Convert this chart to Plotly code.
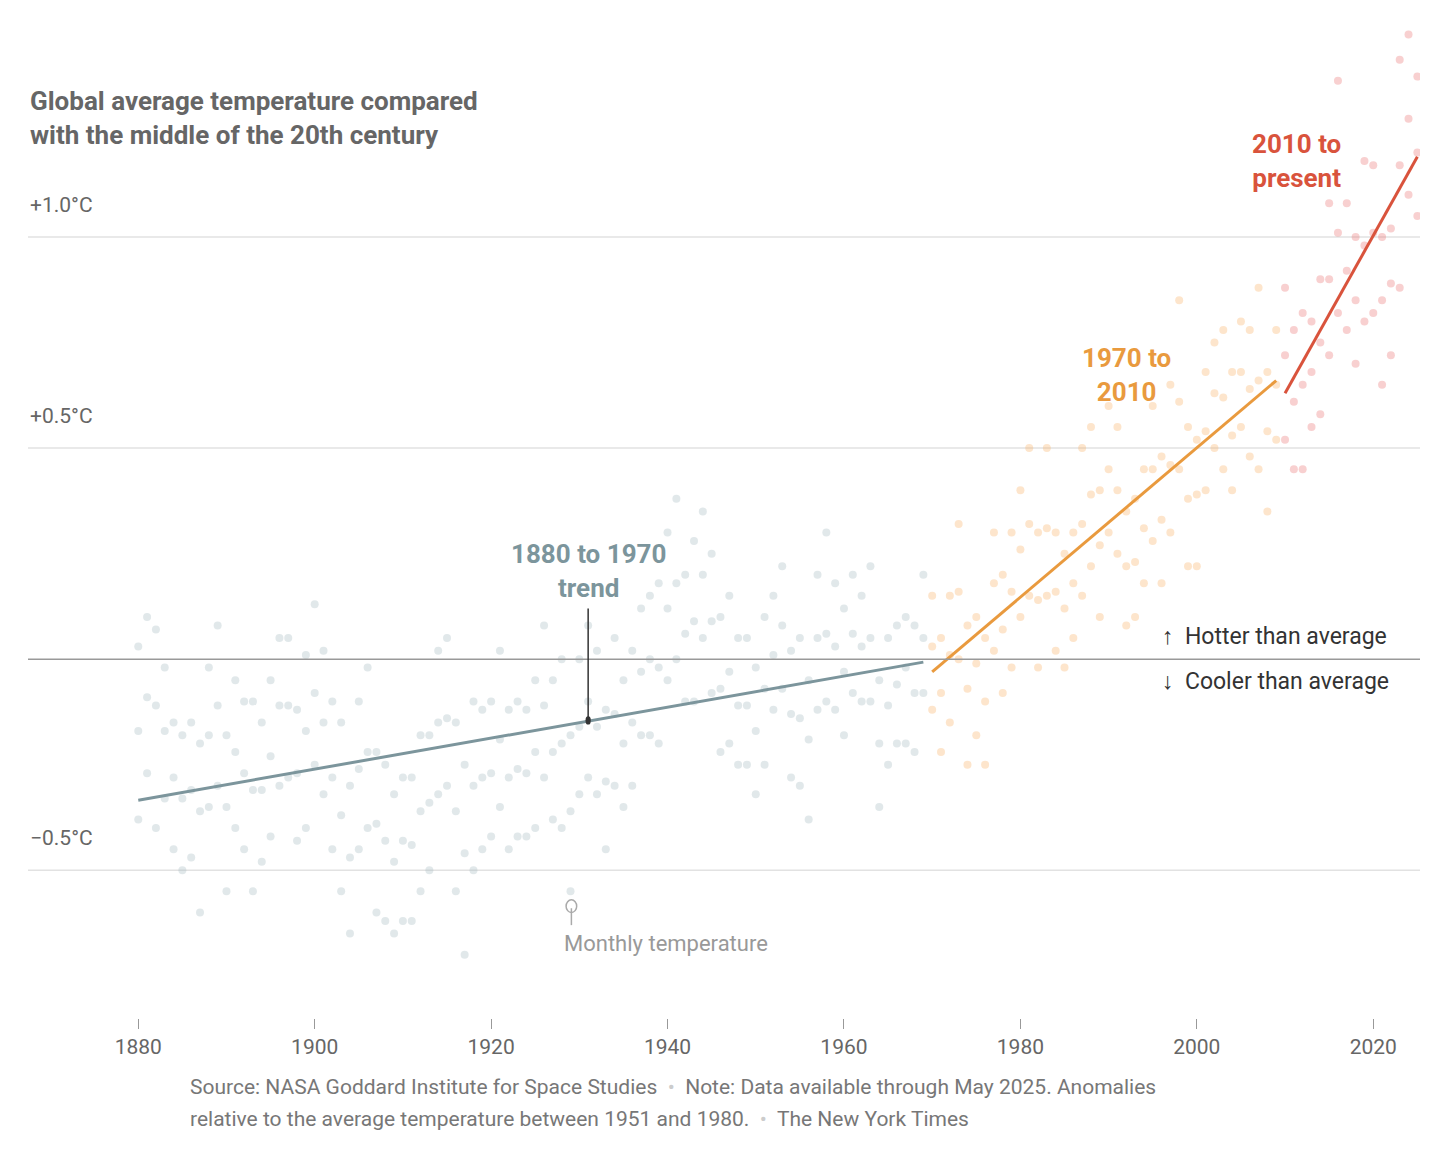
import plotly.graph_objects as go

years = list(range(1880, 2026))
annual_mean = [-0.17,-0.09,-0.11,-0.17,-0.28,-0.33,-0.31,-0.36,-0.18,-0.11,
 -0.35,-0.22,-0.27,-0.31,-0.31,-0.23,-0.11,-0.11,-0.27,-0.17,
 -0.08,-0.15,-0.28,-0.37,-0.47,-0.26,-0.22,-0.39,-0.43,-0.48,
 -0.43,-0.44,-0.36,-0.34,-0.15,-0.14,-0.36,-0.46,-0.30,-0.28,
 -0.27,-0.19,-0.28,-0.26,-0.27,-0.22,-0.11,-0.22,-0.20,-0.36,
 -0.16,-0.10,-0.16,-0.29,-0.13,-0.20,-0.15,-0.03,0.00,-0.02,
 0.12,0.18,0.06,0.09,0.20,0.09,-0.07,-0.03,-0.11,-0.11,
 -0.17,-0.07,0.01,0.08,-0.13,-0.14,-0.19,0.05,0.06,0.03,
 -0.03,0.06,0.03,0.05,-0.20,-0.11,-0.06,-0.02,-0.08,0.05,
 0.03,-0.08,0.01,0.16,-0.07,-0.01,-0.10,0.18,0.07,0.16,
 0.26,0.32,0.14,0.31,0.16,0.12,0.18,0.32,0.39,0.27,
 0.45,0.40,0.22,0.23,0.31,0.45,0.33,0.46,0.61,0.38,
 0.39,0.54,0.63,0.62,0.53,0.68,0.64,0.66,0.54,0.65,
 0.72,0.61,0.65,0.68,0.75,0.90,1.01,0.92,0.85,0.98,
 1.01,0.85,0.89,1.17,1.28,1.20]
monthly_low = [-0.38,-0.27,-0.40,-0.33,-0.45,-0.50,-0.47,-0.60,-0.35,-0.30,
 -0.55,-0.40,-0.45,-0.55,-0.48,-0.42,-0.30,-0.28,-0.43,-0.40,
 -0.25,-0.32,-0.45,-0.55,-0.65,-0.45,-0.40,-0.60,-0.62,-0.65,
 -0.62,-0.62,-0.55,-0.50,-0.32,-0.30,-0.55,-0.70,-0.50,-0.45,
 -0.42,-0.35,-0.45,-0.42,-0.42,-0.40,-0.28,-0.38,-0.40,-0.55,
 -0.32,-0.28,-0.32,-0.45,-0.30,-0.35,-0.30,-0.18,-0.18,-0.20,
 -0.05,0.00,-0.10,-0.10,0.05,-0.08,-0.22,-0.20,-0.25,-0.25,
 -0.32,-0.25,-0.12,-0.07,-0.28,-0.30,-0.38,-0.12,-0.10,-0.12,
 -0.18,-0.08,-0.10,-0.10,-0.35,-0.25,-0.20,-0.20,-0.22,-0.08,
 -0.12,-0.22,-0.15,0.00,-0.25,-0.18,-0.25,0.02,-0.08,-0.02,
 0.10,0.15,-0.02,0.15,0.02,-0.02,0.05,0.15,0.22,0.10,
 0.30,0.25,0.08,0.10,0.18,0.28,0.18,0.30,0.45,0.22,
 0.22,0.40,0.50,0.45,0.40,0.55,0.48,0.45,0.35,0.52,
 0.52,0.45,0.45,0.55,0.58,0.72,0.82,0.78,0.70,0.80,
 0.82,0.65,0.72,0.88,1.10,1.05]
monthly_high = [0.03,0.10,0.07,-0.02,-0.15,-0.18,-0.15,-0.20,-0.02,0.08,
 -0.18,-0.05,-0.10,-0.10,-0.15,-0.05,0.05,0.05,-0.12,0.01,
 0.13,0.02,-0.10,-0.15,-0.30,-0.10,-0.02,-0.22,-0.25,-0.32,
 -0.28,-0.28,-0.18,-0.18,0.02,0.05,-0.15,-0.25,-0.10,-0.12,
 -0.10,0.02,-0.12,-0.10,-0.12,-0.05,0.08,-0.05,0.00,-0.18,
 0.00,0.08,0.02,-0.12,0.05,-0.05,0.02,0.12,0.15,0.18,
 0.30,0.38,0.20,0.28,0.35,0.25,0.10,0.15,0.05,0.05,
 -0.02,0.10,0.15,0.22,0.02,0.05,-0.05,0.20,0.30,0.18,
 0.12,0.20,0.15,0.22,-0.05,0.05,0.08,0.10,0.08,0.20,
 0.15,0.05,0.15,0.32,0.08,0.10,0.05,0.30,0.20,0.30,
 0.40,0.50,0.30,0.50,0.30,0.25,0.30,0.50,0.55,0.40,
 0.60,0.55,0.35,0.38,0.45,0.60,0.48,0.65,0.85,0.55,
 0.52,0.68,0.75,0.78,0.68,0.80,0.78,0.88,0.68,0.78,
 0.88,0.78,0.82,0.80,0.90,1.08,1.37,1.08,1.00,1.18,
 1.17,1.00,1.02,1.42,1.48,1.38]

trend_years = [[1880, 1969], [1970, 2009], [2010, 2025]]
trend_values = [[-0.334, -0.007], [-0.03, 0.66], [0.63, 1.19]]
periods = [(1880, 1969), (1970, 2009), (2010, 2025)]
dot_colors = ["rgba(170,190,196,0.35)", "rgba(248,180,110,0.35)", "rgba(236,120,120,0.35)"]
line_colors = ["#7c959c", "#e99a3e", "#d9533c"]

fig = go.Figure()
for (a, b), dc in zip(periods, dot_colors):
    xs, ys = [], []
    for yr, m, lo, hi in zip(years, annual_mean, monthly_low, monthly_high):
        if a <= yr <= b:
            xs += [yr, yr, yr]
            ys += [lo, m, hi]
    fig.add_trace(go.Scatter(x=xs, y=ys, mode="markers",
                             marker=dict(size=8, color=dc), hoverinfo="skip"))
for tx, ty, lc in zip(trend_years, trend_values, line_colors):
    fig.add_trace(go.Scatter(x=tx, y=ty, mode="lines", line=dict(color=lc, width=3)))

F = "Roboto"
ann = []
for v, t in [(1.0, "+1.0°C"), (0.5, "+0.5°C"), (-0.5, "\u22120.5°C")]:
    ann.append(dict(xref="paper", x=0.0, y=v, yref="y", yshift=32, xanchor="left",
                    text=t, showarrow=False, font=dict(family=F, size=21, color="#666")))
ann += [
    dict(xref="paper", yref="paper", x=0.0, y=0.905, xanchor="left", yanchor="middle", align="left",
         text="<b>Global average temperature compared<br>with the middle of the 20th century</b>",
         showarrow=False, font=dict(family=F, size=26, color="#666")),
    dict(x=1931, y=0.21, text="<b>1880 to 1970<br>trend</b>", showarrow=False,
         font=dict(family=F, size=26, color="#7c959c")),
    dict(x=1992, y=0.673, text="<b>1970 to<br>2010</b>", showarrow=False,
         font=dict(family=F, size=26, color="#e99a3e")),
    dict(x=2011.3, y=1.18, text="<b>2010 to<br>present</b>", showarrow=False,
         font=dict(family=F, size=26, color="#d9533c")),
    dict(x=1995.8, y=0.054, xanchor="left", text="\u2191  Hotter than average", showarrow=False,
         font=dict(family=F, size=23, color="#333")),
    dict(x=1995.8, y=-0.052, xanchor="left", text="\u2193  Cooler than average", showarrow=False,
         font=dict(family=F, size=23, color="#333")),
    dict(x=1928.0, y=-0.673, xanchor="left", text="Monthly temperature", showarrow=False,
         font=dict(family=F, size=22, color="#999")),
    dict(xref="paper", yref="paper", x=0.115, y=-0.083, xanchor="left", align="left",
         text="Source: NASA Goddard Institute for Space Studies  <span style='color:#ccc'>•</span>  Note: Data available through May 2025. Anomalies",
         showarrow=False, font=dict(family=F, size=21, color="#777")),
    dict(xref="paper", yref="paper", x=0.115, y=-0.116, xanchor="left", align="left",
         text="relative to the average temperature between 1951 and 1980.  <span style='color:#ccc'>•</span>  The New York Times",
         showarrow=False, font=dict(family=F, size=21, color="#777")),
]
shapes = [
    dict(type="line", xref="paper", x0=0, x1=1, y0=v, y1=v, line=dict(color="#e2e2e2", width=1.5), layer="below")
    for v in [-0.5, 0.5, 1.0]
]
shapes += [
    dict(type="line", xref="paper", x0=0, x1=1, y0=0, y1=0, line=dict(color="#999", width=1.5)),
    dict(type="line", x0=1931, x1=1931, y0=0.12, y1=-0.145, line=dict(color="#333", width=1.5)),
    dict(type="circle", x0=1930.7, x1=1931.3, y0=-0.135, y1=-0.155, fillcolor="#333", line=dict(width=0)),
    dict(type="line", x0=1929.1, x1=1929.1, y0=-0.59, y1=-0.63, line=dict(color="#aaa", width=1.5)),
    dict(type="circle", x0=1928.5, x1=1929.7, y0=-0.57, y1=-0.6, line=dict(color="#aaa", width=1.5)),
]
fig.update_layout(
    width=1448, height=1152, showlegend=False,
    margin=dict(l=20, r=36, t=15, b=142),
    plot_bgcolor="white", paper_bgcolor="white",
    xaxis=dict(range=[1867.5, 2025.3], tickvals=list(range(1880, 2021, 20)), ticks="outside",
               ticklen=10, tickcolor="#999", showgrid=False, zeroline=False, showline=False,
               tickfont=dict(family=F, size=21, color="#666")),
    yaxis=dict(range=[-0.85, 1.507], showgrid=False, zeroline=False, showticklabels=False),
    annotations=ann, shapes=shapes,
)
fig.write_html("out.html")
